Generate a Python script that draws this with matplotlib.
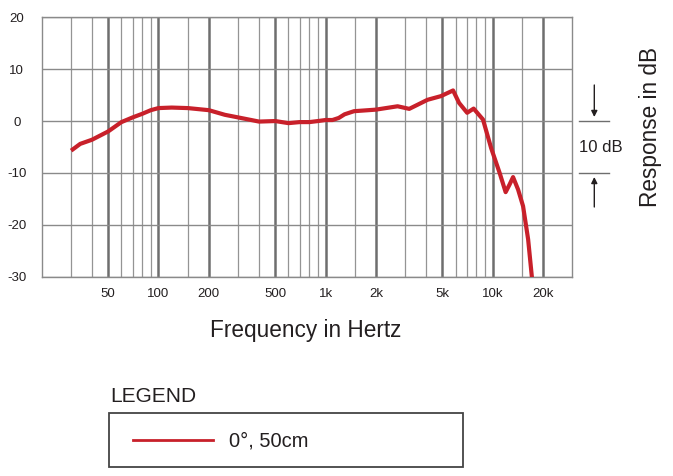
import matplotlib
matplotlib.use("Agg")
import matplotlib.pyplot as plt
from matplotlib.lines import Line2D
from matplotlib.patches import Rectangle

plt.rcParams['font.family'] = ['Liberation Sans', 'DejaVu Sans']

# frequency response (Hz, dB)
freq = [30, 34, 40, 50, 60, 70, 80, 90, 100, 120, 150, 200, 250, 300, 400,
        500, 600, 700, 800, 900, 1000, 1100, 1200, 1300, 1480, 2000, 2700,
        3170, 4080, 4900, 5800, 6300, 7040, 7700, 8760, 9800, 11020, 11970,
        12650, 13260, 14210, 15220, 16320, 17300]
resp = [-5.7, -4.4, -3.6, -2.0, -0.2, 0.7, 1.4, 2.1, 2.5, 2.6, 2.5, 2.1, 1.2,
        0.7, -0.1, 0.0, -0.4, -0.2, -0.2, 0.0, 0.2, 0.2, 0.6, 1.3, 1.9, 2.2,
        2.85, 2.35, 4.1, 4.8, 5.9, 3.5, 1.6, 2.4, 0.3, -5.2, -10.0, -13.7,
        -12.2, -10.8, -13.2, -16.4, -22.8, -31.0]

major_freqs = [50, 100, 200, 500, 1000, 2000, 5000, 10000, 20000]
major_labels = ['50', '100', '200', '500', '1k', '2k', '5k', '10k', '20k']
minor_freqs = [30, 40, 60, 70, 80, 90, 150, 300, 400, 600, 700, 800, 900,
               1500, 3000, 4000, 6000, 7000, 8000, 9000, 15000]
db_ticks = [-30, -20, -10, 0, 10, 20]
legend_label = '0°, 50cm'

W, H = 673, 476
fig = plt.figure(figsize=(W / 100, H / 100), dpi=100)
ax = fig.add_axes([41.7 / W, 1 - 276.7 / H, (572.3 - 41.7) / W, (276.7 - 17.3) / H])

txt = '#231f20'
red = '#c8202a'


def fx(x):
    return x / W


def fy(y):
    return 1 - y / H


ax.set_xscale('log')
ax.set_xlim(20, 30000)
ax.set_ylim(-30, 20)

ax.set_xticks(major_freqs)
ax.set_xticklabels(major_labels, fontsize=9.5)
ax.set_xticks(minor_freqs, minor=True)
ax.set_xticklabels([], minor=True)
ax.set_yticks(db_ticks)
ax.set_yticklabels([str(v) for v in db_ticks], ha='center', fontsize=9.5)

ax.tick_params(axis='both', which='both', length=0, labelcolor=txt)
ax.tick_params(axis='x', pad=8)
ax.tick_params(axis='y', pad=18)

ax.grid(True, which='major', axis='x', color='#6e6e6e', lw=1.8)
ax.grid(True, which='minor', axis='x', color='#949494', lw=0.9)
ax.grid(True, which='major', axis='y', color='#8a8a8a', lw=1.0)
for s in ax.spines.values():
    s.set_color('#8a8a8a')
    s.set_linewidth(1.0)

ax.plot(freq, resp, color=red, lw=3.0, solid_joinstyle='round',
        solid_capstyle='butt', zorder=3)

# axis titles
fig.text(fx(305.5), fy(330), 'Frequency in Hertz', fontsize=16.3, color=txt,
         ha='center', va='center')
fig.text(fx(650), fy(127), 'Response in dB', fontsize=16.3, color=txt,
         ha='center', va='center', rotation=90)

# 10 dB scale marker
fig.text(fx(601), fy(147.5), '10 dB', fontsize=12, color=txt,
         ha='center', va='center')
for yy in (121, 172.7):
    fig.add_artist(Line2D([fx(579), fx(609.3)], [fy(yy), fy(yy)],
                          transform=fig.transFigure, color='#6e6e6e', lw=1.0))
ax.annotate('', xy=(fx(594.3), fy(117)), xytext=(fx(594.3), fy(85)),
            xycoords='figure fraction', textcoords='figure fraction',
            arrowprops=dict(arrowstyle='-|>', color=txt, lw=1.0,
                            mutation_scale=9, shrinkA=0, shrinkB=0))
ax.annotate('', xy=(fx(594.3), fy(177)), xytext=(fx(594.3), fy(207)),
            xycoords='figure fraction', textcoords='figure fraction',
            arrowprops=dict(arrowstyle='-|>', color=txt, lw=1.0,
                            mutation_scale=9, shrinkA=0, shrinkB=0))

# legend block
fig.text(fx(110.5), fy(396), 'LEGEND', fontsize=15, color=txt,
         ha='left', va='center')
fig.add_artist(Rectangle((fx(109), fy(467)), fx(462.7 - 109), (467 - 412.7) / H,
                         transform=fig.transFigure, fill=False,
                         edgecolor='#444444', lw=1.3))
fig.add_artist(Line2D([fx(133), fx(213)], [fy(439.5), fy(439.5)],
                      transform=fig.transFigure, color=red, lw=2.0))
fig.text(fx(229.3), fy(441), legend_label, fontsize=14.5, color=txt,
         ha='left', va='center')

fig.savefig('out.png', dpi=100)
